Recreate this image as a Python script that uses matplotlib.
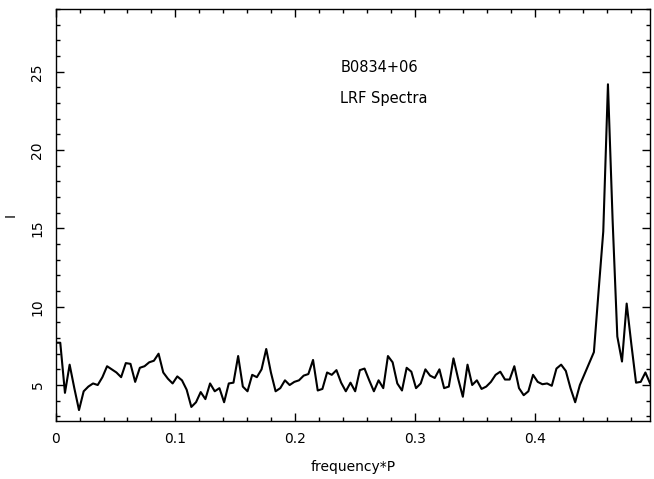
import numpy as np
import matplotlib.pyplot as plt
from matplotlib.ticker import MultipleLocator

# LRF spectrum of B0834+06, 256-point FFT -> 128 frequency bins
nfft = 256
intensity = [
    7.7, 7.7, 4.5, 6.3, 4.8, 3.4, 4.6, 4.9, 5.1, 5.0,
    5.5, 6.2, 6.0, 5.8, 5.5, 6.4, 6.35, 5.2, 6.1, 6.2,
    6.45, 6.55, 7.0, 5.8, 5.4, 5.1, 5.55, 5.3, 4.7, 3.6,
    3.9, 4.55, 4.1, 5.1, 4.6, 4.8, 3.9, 5.1, 5.15, 6.85,
    4.9, 4.6, 5.65, 5.5, 6.0, 7.3, 5.8, 4.6, 4.8, 5.3,
    5.0, 5.2, 5.3, 5.6, 5.7, 6.6, 4.65, 4.75, 5.8, 5.65,
    5.95, 5.15, 4.6, 5.15, 4.6, 5.95, 6.05, 5.3, 4.6, 5.3,
    4.8, 6.85, 6.45, 5.1, 4.65, 6.1, 5.85, 4.8, 5.1, 6.0,
    5.6, 5.45, 6.0, 4.8, 4.9, 6.7, 5.4, 4.25, 6.3, 5.0,
    5.3, 4.75, 4.9, 5.2, 5.65, 5.85, 5.35, 5.35, 6.2, 4.8,
    4.35, 4.6, 5.65, 5.2, 5.05, 5.1, 4.95, 6.05, 6.3, 5.9,
    4.8, 3.9, 5.0, 5.7, 6.4, 7.1, 11.0, 14.8, 24.2, 15.5,
    8.1, 6.5, 10.2, 7.6, 5.15, 5.2, 5.8, 5.1,
]
freq = np.arange(len(intensity)) / nfft

fig = plt.figure(figsize=(6.54, 4.79), dpi=100)
ax = fig.add_axes([0.085, 0.121, 0.909, 0.860])

ax.plot(freq, intensity, color='black', lw=1.5)

ax.set_xlim(0, freq[-1])
ax.set_ylim(2.7, 29.0)

ax.xaxis.set_major_locator(MultipleLocator(0.1))
ax.xaxis.set_minor_locator(MultipleLocator(0.02))
ax.yaxis.set_major_locator(MultipleLocator(5))
ax.yaxis.set_minor_locator(MultipleLocator(1))
ax.set_xticks([0, 0.1, 0.2, 0.3, 0.4])
ax.set_xticklabels(['0', '0.1', '0.2', '0.3', '0.4'])

ax.tick_params(which='both', direction='in', top=True, right=True, width=1)
ax.tick_params(which='major', length=6, labelsize=10)
ax.tick_params(which='minor', length=3)
ax.tick_params(axis='x', pad=8)
ax.tick_params(axis='y', pad=8, labelrotation=90)
for lbl in ax.get_yticklabels():
    lbl.set_va('center')

for s in ax.spines.values():
    s.set_linewidth(1)

ax.set_xlabel('frequency*P', fontsize=10, labelpad=10)
ax.set_ylabel('I', fontsize=10, labelpad=9)

ax.text(0.2375, 25.25, 'B0834+06', fontsize=10.5, va='center')
ax.text(0.2375, 23.3, 'LRF Spectra', fontsize=10.5, va='center')

fig.savefig('out.png', dpi=100)
